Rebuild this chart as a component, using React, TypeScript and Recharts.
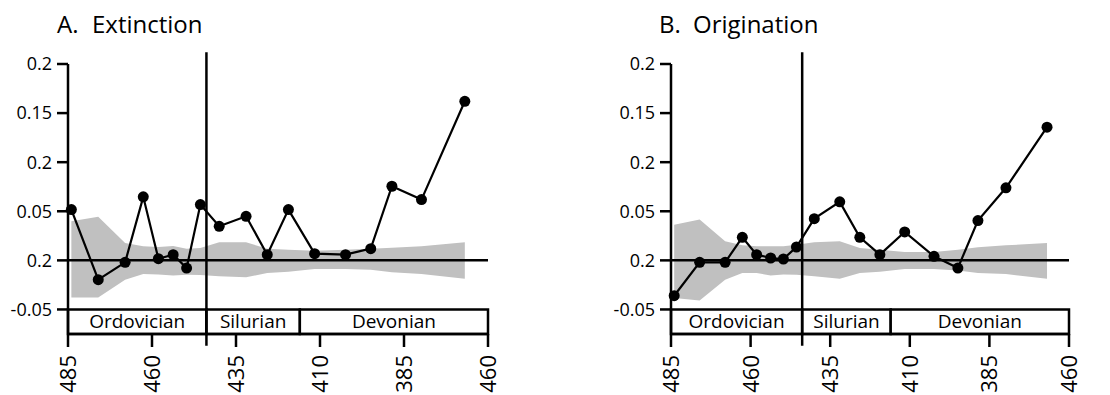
import React from 'react';
import {
  ComposedChart,
  Area,
  Line,
  XAxis,
  YAxis,
  ReferenceLine,
  ReferenceArea,
} from 'recharts';

// stage midpoints (Ma), shared by both panels
const ages = [484, 476, 468, 462.6, 458.1, 453.7, 449.7, 445.6, 440, 432, 425.7, 419.4, 411.6, 402.4, 394.9, 388.6, 379.8, 366.9];

const extinctionValues = [0.0517, -0.0197, -0.002, 0.0647, 0.0017, 0.0058, -0.0078, 0.0568, 0.0347, 0.0449, 0.0058, 0.0517, 0.0068, 0.0058, 0.0119, 0.0755, 0.0619, 0.162];
const extinctionBandLow = [-0.0377, -0.0377, -0.0197, -0.0139, -0.0143, -0.0153, -0.0146, -0.0149, -0.0163, -0.0173, -0.0129, -0.0115, -0.0088, -0.0088, -0.0095, -0.0122, -0.0139, -0.0187];
const extinctionBandHigh = [0.0398, 0.0443, 0.0177, 0.0143, 0.0136, 0.0146, 0.0119, 0.0126, 0.0184, 0.0184, 0.0119, 0.0109, 0.0099, 0.0109, 0.0119, 0.0129, 0.0143, 0.0184];

const originationValues = [-0.036, -0.002, -0.002, 0.0235, 0.0058, 0.0024, 0.0014, 0.0136, 0.0425, 0.0596, 0.0235, 0.0058, 0.029, 0.0041, -0.0078, 0.0405, 0.0739, 0.1357];
const originationBandLow = [-0.0384, -0.0408, -0.0197, -0.0129, -0.0129, -0.0153, -0.0143, -0.0146, -0.0163, -0.0187, -0.0129, -0.0115, -0.0088, -0.0088, -0.0102, -0.0129, -0.0139, -0.0187];
const originationBandHigh = [0.0364, 0.0415, 0.0194, 0.0153, 0.0143, 0.0143, 0.0143, 0.016, 0.0184, 0.0194, 0.0126, 0.0109, 0.0085, 0.0085, 0.0109, 0.0133, 0.0153, 0.0177];

const periodNames = ['Ordovician', 'Silurian', 'Devonian'];
const periodStarts = [485, 443.8, 416];
const periodEnds = [443.8, 416, 360];

const xTicks = [485, 460, 435, 410, 385, 360];
const xTickLabels = ['485', '460', '435', '410', '385', '460'];
const yTicks = [-0.05, 0, 0.05, 0.1, 0.15, 0.2];
const yTickLabels = ['-0.05', '0.2', '0.05', '0.2', '0.15', '0.2'];

const FONT = '"Open Sans", "Noto Sans", sans-serif';
const AXIS_W = 2.5;

const buildRows = (values: number[], low: number[], high: number[]) =>
  ages.map((age, i) => ({ age, value: values[i], band: [low[i], high[i]] }));

const XTick = ({ x, y, payload }: any) => {
  const i = xTicks.indexOf(payload.value);
  return (
    <g transform={`translate(${x},${y})`}>
      <text
        x={0}
        y={0}
        dy="0.36em"
        transform="rotate(-90)"
        textAnchor="end"
        fontSize={22}
        fontFamily={FONT}
        fill="#000"
      >
        {xTickLabels[i]}
      </text>
    </g>
  );
};

function Panel({ rows, width }: { rows: any[]; width: number }) {
  return (
    <ComposedChart
      width={width}
      height={395}
      data={rows}
      margin={{ top: 64, right: 30, bottom: 0, left: 0 }}
    >
      <XAxis
        dataKey="age"
        type="number"
        domain={[360, 485]}
        reversed
        ticks={xTicks}
        interval={0}
        height={61}
        tickSize={13}
        tickMargin={8}
        axisLine={{ stroke: '#000', strokeWidth: AXIS_W }}
        tickLine={{ stroke: '#000', strokeWidth: AXIS_W }}
        tick={<XTick />}
      />
      <YAxis
        type="number"
        domain={[-0.075, 0.2]}
        ticks={yTicks}
        interval={0}
        width={68}
        tickSize={11}
        tickMargin={5}
        axisLine={{ stroke: '#000', strokeWidth: AXIS_W }}
        tickLine={{ stroke: '#000', strokeWidth: AXIS_W }}
        tick={{ fontSize: 18, fill: '#000', fontFamily: FONT }}
        tickFormatter={(v: number) => yTickLabels[yTicks.indexOf(v)]}
      />
      {periodNames.map((name, i) => (
        <ReferenceArea
          key={name}
          x1={periodStarts[i]}
          x2={periodEnds[i]}
          y1={-0.075}
          y2={-0.05}
          fill="#fff"
          fillOpacity={1}
          stroke="#000"
          strokeWidth={AXIS_W}
          label={{ value: name, position: 'center', fontSize: 19, fill: '#000', fontFamily: FONT }}
        />
      ))}
      <Area
        dataKey="band"
        type="linear"
        fill="#c0c0c0"
        fillOpacity={1}
        stroke="none"
        isAnimationActive={false}
      />
      <ReferenceLine y={0} stroke="#000" strokeWidth={AXIS_W} />
      <ReferenceLine
        segment={[
          { x: 443.8, y: -0.087 },
          { x: 443.8, y: 0.212 },
        ]}
        ifOverflow="visible"
        stroke="#000"
        strokeWidth={AXIS_W}
      />
      <Line
        dataKey="value"
        type="linear"
        stroke="#000"
        strokeWidth={2.2}
        dot={{ r: 5.5, fill: '#000', stroke: '#000', strokeWidth: 0 }}
        isAnimationActive={false}
      />
    </ComposedChart>
  );
}

export default function App() {
  const extinctionRows = buildRows(extinctionValues, extinctionBandLow, extinctionBandHigh);
  const originationRows = buildRows(originationValues, originationBandLow, originationBandHigh);

  return (
    <div style={{ position: 'absolute', left: 0, top: 0, width: 1110, height: 395, background: '#fff' }}>
      <svg width={1110} height={45} style={{ position: 'absolute', left: 0, top: 0 }}>
        <text x={57} y={33} fontSize={24} fontFamily={FONT} fill="#000">A.</text>
        <text x={92} y={33} fontSize={24} fontFamily={FONT} fill="#000">Extinction</text>
        <text x={659} y={33} fontSize={24} fontFamily={FONT} fill="#000">B.</text>
        <text x={693} y={33} fontSize={24} fontFamily={FONT} fill="#000">Origination</text>
      </svg>
      <div style={{ position: 'absolute', left: 0, top: 0 }}>
        <Panel rows={extinctionRows} width={518} />
      </div>
      <div style={{ position: 'absolute', left: 603, top: 0 }}>
        <Panel rows={originationRows} width={496} />
      </div>
    </div>
  );
}
